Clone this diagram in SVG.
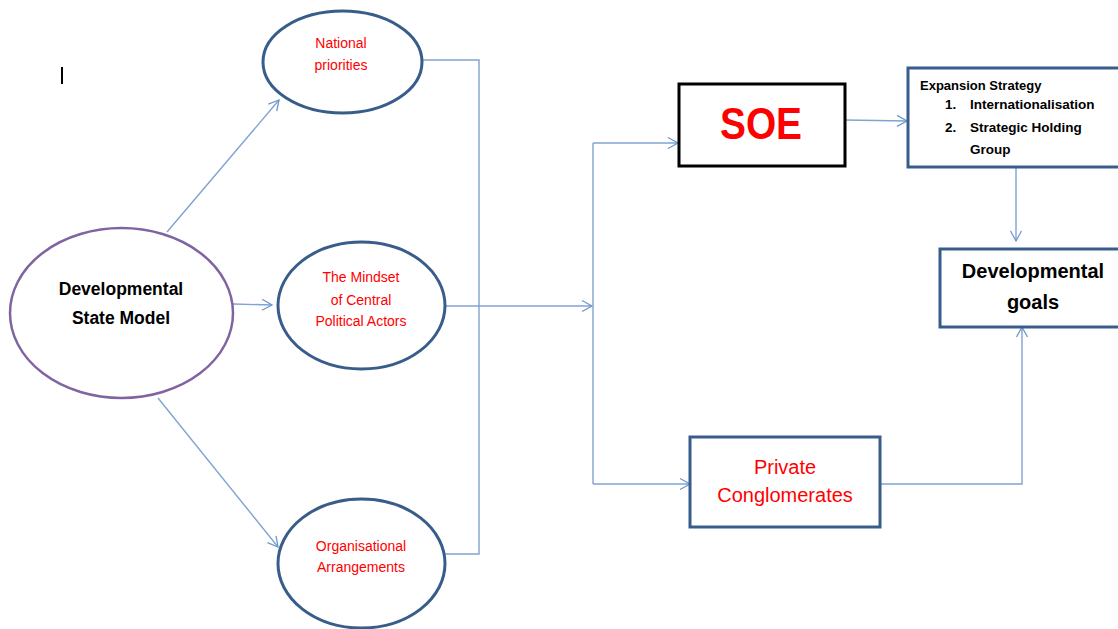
<svg xmlns="http://www.w3.org/2000/svg" width="1118" height="629" viewBox="0 0 1118 629">
  <defs>
    <marker id="arrow" markerUnits="userSpaceOnUse" markerWidth="14" markerHeight="14" viewBox="-1 -7 13 14" refX="10" refY="0" orient="auto">
      <path d="M0,-5.5 L10,0 L0,5.5" fill="none" stroke="#6F97CC" stroke-width="1.3"/>
    </marker>
    <style>
      .conn { fill: none; stroke: #7FA3D3; stroke-width: 1.4; }
      .oval { fill: #fff; stroke: #385D8A; stroke-width: 3; }
      .box { fill: #fff; stroke: #385D8A; stroke-width: 3; }
      .red { fill: #FF0000; font-family: "Liberation Sans", Arial, sans-serif; text-anchor: middle; }
      .blk { fill: #000; font-family: "Liberation Sans", Arial, sans-serif; font-weight: bold; }
      .mid { text-anchor: middle; }
    </style>
  </defs>
  <rect width="1118" height="629" fill="#fff"/>

  <!-- text cursor mark -->
  <line x1="62" y1="67" x2="62" y2="84" stroke="#000" stroke-width="2"/>

  <g id="connectors">
    <line class="conn" x1="167" y1="232" x2="279" y2="100" marker-end="url(#arrow)"/>
    <line class="conn" x1="233" y1="304" x2="272" y2="305" marker-end="url(#arrow)"/>
    <line class="conn" x1="158" y1="398" x2="278" y2="547" marker-end="url(#arrow)"/>
    <polyline class="conn" points="422,60 479,60 479,554 445,554"/>
    <line class="conn" x1="445" y1="306" x2="592" y2="306" marker-end="url(#arrow)"/>
    <line class="conn" x1="593" y1="143" x2="593" y2="484"/>
    <line class="conn" x1="593" y1="143" x2="678" y2="143" marker-end="url(#arrow)"/>
    <line class="conn" x1="593" y1="484" x2="690" y2="484" marker-end="url(#arrow)"/>
    <line class="conn" x1="845" y1="120" x2="907" y2="121" marker-end="url(#arrow)"/>
    <line class="conn" x1="1016" y1="168" x2="1016" y2="241" marker-end="url(#arrow)"/>
    <polyline class="conn" points="880,484 1022,484 1022,327" marker-end="url(#arrow)"/>
  </g>

  <g id="developmental-state-model">
    <ellipse cx="121.5" cy="313" rx="111.5" ry="85" fill="#fff" stroke="#8064A2" stroke-width="2.5"/>
    <text class="blk mid" x="121" y="295" font-size="17.5">Developmental</text>
    <text class="blk mid" x="121" y="324" font-size="17.5">State Model</text>
  </g>

  <g id="national-priorities">
    <ellipse class="oval" cx="342.5" cy="62" rx="79.5" ry="51"/>
    <text class="red" x="341" y="48" font-size="14">National</text>
    <text class="red" x="341" y="70" font-size="14">priorities</text>
  </g>

  <g id="mindset">
    <ellipse class="oval" cx="361.5" cy="305.5" rx="83.5" ry="63.5"/>
    <text class="red" x="361" y="282" font-size="14">The Mindset</text>
    <text class="red" x="361" y="305" font-size="14">of Central</text>
    <text class="red" x="361" y="326" font-size="14">Political Actors</text>
  </g>

  <g id="organisational-arrangements">
    <ellipse class="oval" cx="361.5" cy="563.5" rx="83.5" ry="64.5"/>
    <text class="red" x="361" y="551" font-size="14">Organisational</text>
    <text class="red" x="361" y="572" font-size="14">Arrangements</text>
  </g>

  <g id="soe">
    <rect x="679" y="84" width="166" height="82" fill="#fff" stroke="#000" stroke-width="3"/>
    <text class="red" x="761" y="139" font-size="44" font-weight="bold" textLength="82" lengthAdjust="spacingAndGlyphs">SOE</text>
  </g>

  <g id="expansion-strategy">
    <rect class="box" x="908" y="68" width="214" height="99"/>
    <text class="blk" x="920" y="90" font-size="13">Expansion Strategy</text>
    <text class="blk" x="945" y="109" font-size="13.5">1.</text>
    <text class="blk" x="970" y="109" font-size="13.5">Internationalisation</text>
    <text class="blk" x="945" y="132" font-size="13.5">2.</text>
    <text class="blk" x="970" y="132" font-size="13.5">Strategic Holding</text>
    <text class="blk" x="970" y="154" font-size="13.5">Group</text>
  </g>

  <g id="developmental-goals">
    <rect class="box" x="940" y="249" width="182" height="78"/>
    <text class="blk mid" x="1033" y="278" font-size="20">Developmental</text>
    <text class="blk mid" x="1033" y="309" font-size="20">goals</text>
  </g>

  <g id="private-conglomerates">
    <rect class="box" x="690" y="437" width="190" height="90"/>
    <text class="red" x="785" y="474" font-size="20">Private</text>
    <text class="red" x="785" y="502" font-size="20">Conglomerates</text>
  </g>
</svg>
